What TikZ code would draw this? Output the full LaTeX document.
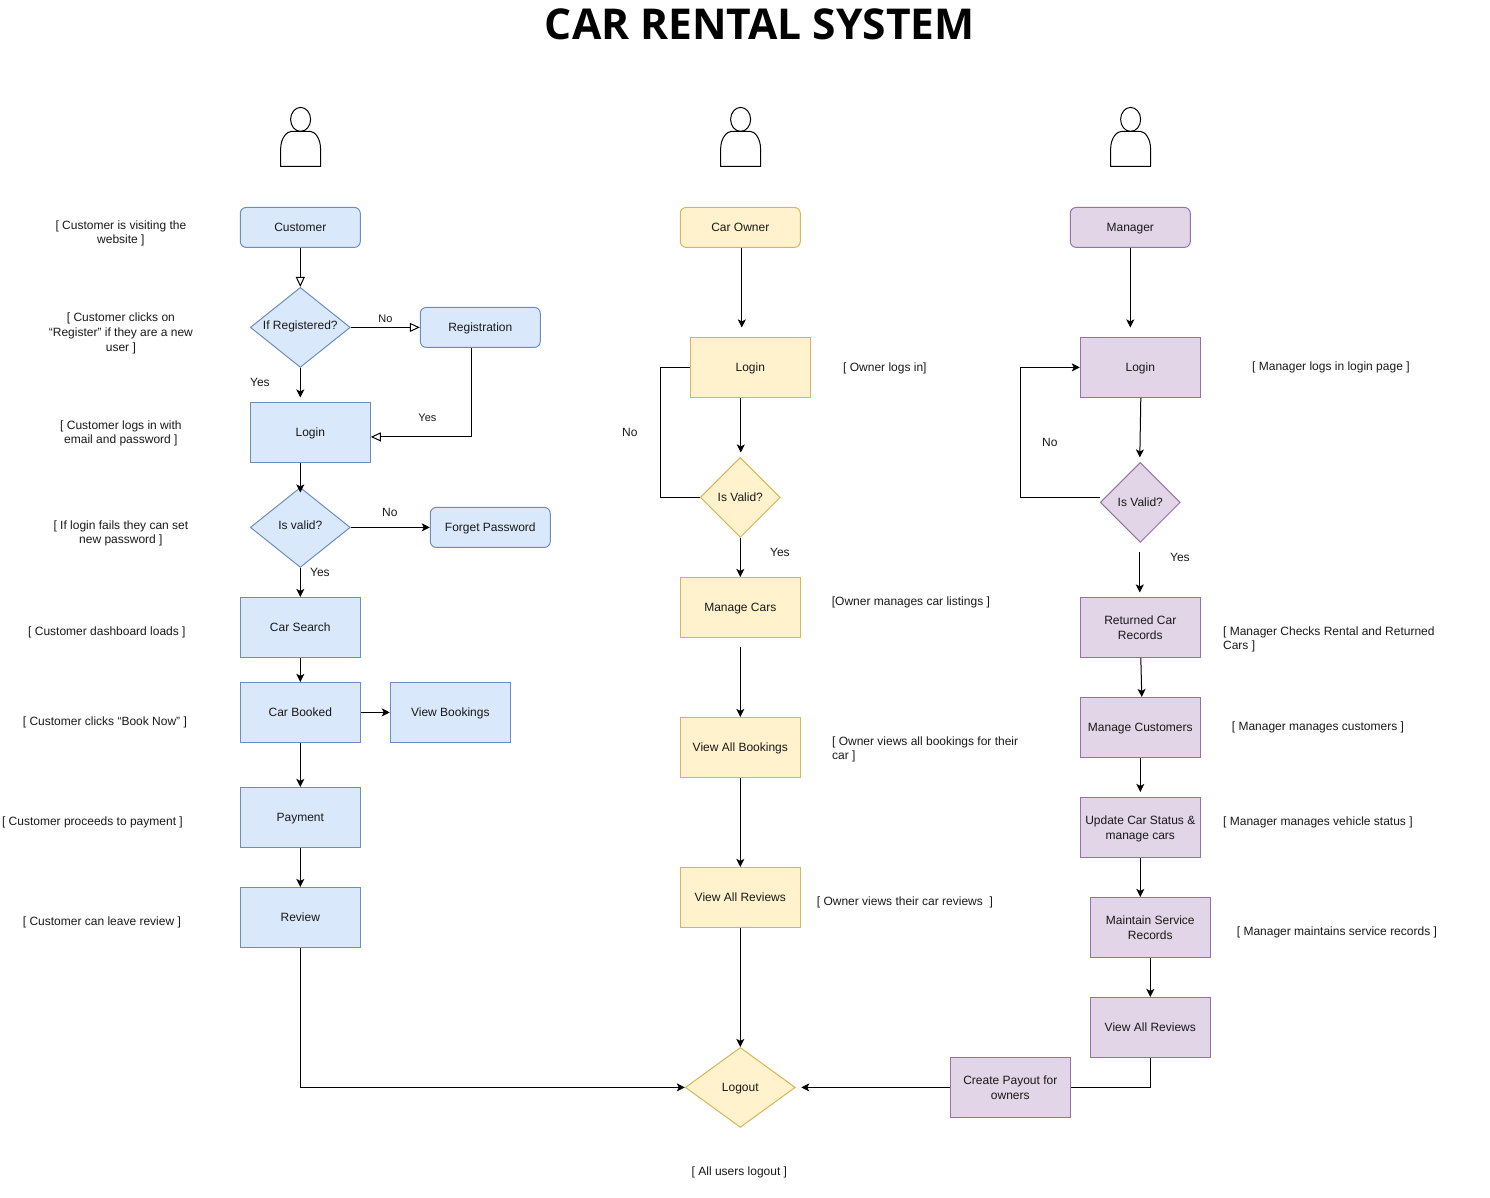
\documentclass[tikz,border=0pt]{standalone}
\usepackage{fontspec}
\setmainfont{Liberation Sans}
\newfontfamily\titlefont{Open Sans}
\usetikzlibrary{arrows.meta,shapes.geometric}
\newcommand{\lowstrut}{\vrule height 11.22pt depth 3.38pt width 0pt\relax}
\newcommand{\tallstrut}{\vrule height 13pt depth 0pt width 0pt\relax}
\tikzset{
  x=1pt,y=-1pt,
  every node/.style={font=\fontsize{12}{14.6}\selectfont,text=black!90},
  stru/.style={execute at begin node=\lowstrut,execute at end node=\lowstrut},
  boxbase/.style={draw,line width=1pt,minimum width=120pt,minimum height=60pt,inner sep=0pt,align=center,stru},
  roundbase/.style={boxbase,minimum height=40pt,rounded corners=6pt},
  dia/.style={draw,diamond,line width=1pt,inner sep=0pt,align=center,stru},
  blue/.style={fill=bluefill,draw=blueline},
  yel/.style={fill=yelfill,draw=yelline},
  pur/.style={fill=purfill,draw=purline},
  note/.style={inner sep=0pt,align=center,stru,yshift=-1pt,xshift=-0.4pt},
  lnote/.style={inner sep=0pt,align=left,anchor=west,stru,yshift=-1pt,xshift=-0.4pt},
  small/.style={font=\fontsize{11}{13}\selectfont},
  flow/.style={draw=black,line width=1pt,-{Stealth[length=8pt,width=8pt,inset=2pt]}},
  open/.style={draw=black,line width=1pt,-{Triangle[open,fill=white,length=10pt,width=9pt]}},
  plain/.style={draw=black,line width=1pt},
  person/.pic={
    \draw[line width=1pt] (0.3,-18) ellipse [x radius=10,y radius=12];
    \draw[line width=1pt,line join=round] (-19.7,29) -- (-19.7,12)
      .. controls (-19.7,0) and (-13,-6) .. (-9,-6)
      -- (10,-6) .. controls (14,-6) and (20.3,0) .. (20.3,12) -- (20.3,29) -- cycle;
  }
}
\definecolor{bluefill}{HTML}{DAE8FC}\definecolor{blueline}{HTML}{6C8EBF}
\definecolor{yelfill}{HTML}{FFF2CC}\definecolor{yelline}{HTML}{D6B656}
\definecolor{purfill}{HTML}{E1D5E7}\definecolor{purline}{HTML}{9673A6}
\begin{document}
\begin{tikzpicture}
\useasboundingbox (-0.3,0.6) rectangle (1489.7,1197.6);
% title
\node[inner sep=0pt,font=\titlefont\bfseries\fontsize{42.5}{46}\selectfont,text=black] (title) at (759.5,25) {CAR RENTAL SYSTEM};
% persons
\pic at (300,138) {person};
\pic at (740,138) {person};
\pic at (1130,138) {person};
% customer column
\node[roundbase,blue] (cust) at (300,228) {Customer};
\node[dia,blue,minimum width=100pt,minimum height=80pt,aspect=1.25] (ifreg) at (300,328) {\raisebox{2pt}{If Registered?}};
\node[roundbase,blue] (reg) at (480,328) {Registration};
\node[boxbase,blue] (clogin) at (310,433) {Login};
\node[dia,blue,minimum width=100pt,minimum height=80pt,aspect=1.25] (cvalid) at (300,528) {\raisebox{2pt}{Is valid?}};
\node[roundbase,blue] (forget) at (490,528) {Forget Password};
\node[boxbase,blue] (search) at (300,628) {Car Search};
\node[boxbase,blue] (booked) at (300,713) {Car Booked};
\node[boxbase,blue] (viewb) at (450,713) {View Bookings};
\node[boxbase,blue] (pay) at (300,818) {Payment};
\node[boxbase,blue] (review) at (300,918) {Review};
% owner column
\node[roundbase,yel] (owner) at (740,228) {Car Owner};
\node[boxbase,yel] (ologin) at (750,368) {Login};
\node[dia,yel,minimum width=80pt,minimum height=80pt,aspect=1] (ovalid) at (740,498) {Is Valid?};
\node[boxbase,yel] (mcars) at (740,608) {Manage Cars};
\node[boxbase,yel] (vbook) at (740,748) {View All Bookings};
\node[boxbase,yel] (vrev) at (740,898) {View All Reviews};
\node[dia,yel,minimum width=110pt,minimum height=80pt,aspect=1.375] (logout) at (740,1088) {Logout};
% manager column
\node[roundbase,pur] (mgr) at (1130,228) {Manager};
\node[boxbase,pur] (mlogin) at (1140,368) {Login};
\node[dia,pur,minimum width=80pt,minimum height=80pt,aspect=1] (mvalid) at (1140,503) {Is Valid?};
\node[boxbase,pur] (ret) at (1140,628) {\tallstrut Returned Car\\Records};
\node[boxbase,pur] (mcust) at (1140,728) {Manage Customers};
\node[boxbase,pur] (upd) at (1140,828) {\tallstrut Update Car Status \&\\manage cars};
\node[boxbase,pur] (maint) at (1150,928) {\tallstrut Maintain Service\\Records};
\node[boxbase,pur] (mrev) at (1150,1028) {View All Reviews};
\node[boxbase,pur] (payout) at (1010,1088) {\tallstrut Create Payout for\\owners};
% free ends
\coordinate (e1) at (300,398);
\coordinate (e2) at (300,493);
\coordinate (e3) at (741.5,328);
\coordinate (e4) at (740.5,453);
\coordinate (s5) at (740,648);
\coordinate (e6) at (1130,328);
\coordinate (e7) at (1139.5,458);
\coordinate (s8) at (1100,498);
\coordinate (s9) at (1139.5,553);
\coordinate (e9) at (1139.5,593);
\coordinate (e10) at (801,1088);
% customer connectors
\draw[open] (cust.south) -- (ifreg.north);
\draw[open] (ifreg.east) -- (reg.west);
\draw[flow] (ifreg.south) -- (e1);
\draw[open] ([xshift=-8.5pt]reg.south) |- ([yshift=-4.5pt]clogin.east);
\draw[flow] ([xshift=-10pt]clogin.south) -- (e2);
\draw[flow] (cvalid.east) -- (forget.west);
\draw[flow] (cvalid.south) -- (search.north);
\draw[flow] (search.south) -- (booked.north);
\draw[flow] (booked.east) -- (viewb.west);
\draw[flow] (booked.south) -- (pay.north);
\draw[flow] (pay.south) -- (review.north);
\draw[flow] (review.south) |- (logout.west);
% owner connectors
\draw[flow] ([xshift=1.5pt]owner.south) -- (e3);
\draw[flow] ([xshift=-9.5pt]ologin.south) -- (e4);
\draw[plain] (ovalid.west) -- ++(-39.5,0) |- (ologin.west);
\draw[flow] (ovalid.south) -- (mcars.north);
\draw[flow] (s5) -- (vbook.north);
\draw[flow] (vbook.south) -- (vrev.north);
\draw[flow] (vrev.south) -- (logout.north);
% manager connectors
\draw[flow] (mgr.south) -- (e6);
\draw[flow] ([xshift=0.5pt]mlogin.south) -- (e7);
\draw[flow] (s8) -- ++(-79.5,0) |- (mlogin.west);
\draw[flow] (s9) -- (e9);
\draw[flow] ([xshift=0.5pt]ret.south) -- ([xshift=1.5pt]mcust.north);
\draw[flow] (mcust.south) -- ([yshift=5pt]upd.north);
\draw[flow] (upd.south) -- ([xshift=-10pt]maint.north);
\draw[flow] (maint.south) -- (mrev.north);
\draw[plain] (mrev.south) |- (payout.east);
\draw[flow] (payout.west) -- (e10);
% customer notes
\node[note] (n1) at (121,233.5) {[ Customer is visiting the\\website ]};
\node[note] (n2) at (121,333.5) {[ Customer clicks on\\“Register” if they are a new\\user ]};
\node[note] (n3) at (121,433.5) {[ Customer logs in with\\email and password ]};
\node[note] (n4) at (121,533.5) {[ If login fails they can set\\new password ]};
\node[note] (n5) at (107,631) {[ Customer dashboard loads ]};
\node[note] (n6) at (105,721) {[ Customer clicks “Book Now” ]};
\node[note] (n7) at (92.5,821) {[ Customer proceeds to payment ]};
\node[note] (n8) at (102,921) {[ Customer can leave review ]};
\node[note,small] (l1) at (385.5,318) {No};
\node[note] (l2) at (260,382) {Yes};
\node[note,small] (l3) at (427.5,417.5) {Yes};
\node[note] (l4) at (390,512) {No};
\node[note] (l5) at (320,572) {Yes};
% owner notes
\node[note] (n9) at (885,367) {[ Owner logs in]};
\node[note] (l6) at (630,432) {No};
\node[note] (l7) at (780,552) {Yes};
\node[note] (n10) at (911,601) {[Owner manages car listings ]};
\node[lnote] (n11) at (832,749.5) {[ Owner views all bookings for their\\car ]};
\node[note] (n12) at (905,901) {[ Owner views their car reviews~ ]};
% manager notes
\node[note] (n13) at (1331,366) {[ Manager logs in login page ]};
\node[note] (l8) at (1050,442) {No};
\node[note] (l9) at (1180,557) {Yes};
\node[lnote] (n14) at (1223,639.5) {[ Manager Checks Rental and Returned\\Cars ]};
\node[note] (n15) at (1318,726) {[ Manager manages customers ]};
\node[note] (n16) at (1318,821) {[ Manager manages vehicle status ]};
\node[note] (n17) at (1337,931) {[ Manager maintains service records ]};
\node[note] (n18) at (739.5,1171) {[ All users logout ]};
\end{tikzpicture}
\end{document}
